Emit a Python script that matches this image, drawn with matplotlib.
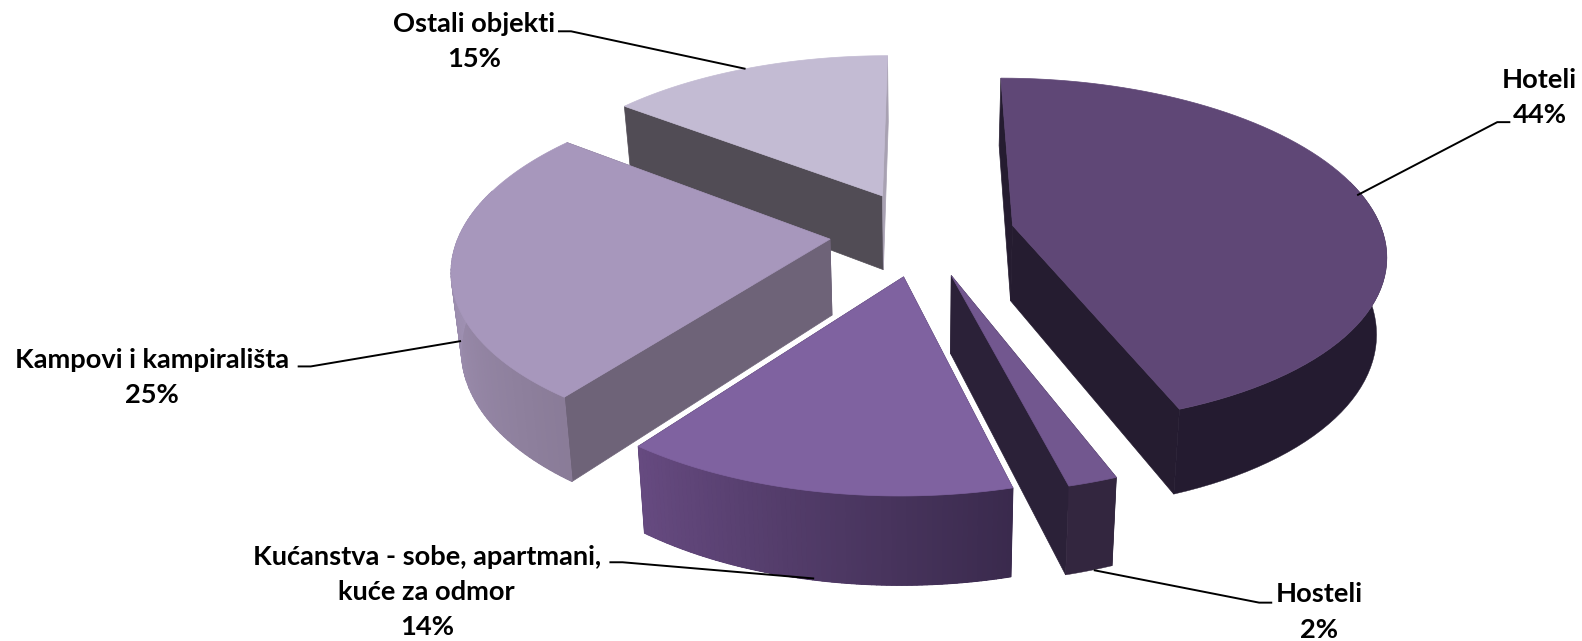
import numpy as np
import matplotlib
matplotlib.use('Agg')
import matplotlib.pyplot as plt
from matplotlib.collections import PolyCollection
from matplotlib.colors import to_rgb

labels = ['Hoteli', 'Hosteli', 'Kućanstva - sobe, apartmani,\nkuće za odmor',
          'Kampovi i kampirališta', 'Ostali objekti']
shares = [44.2, 1.8, 14.2, 25.2, 14.6]
pct_labels = ['44%', '2%', '14%', '25%', '15%']

top_colors = ['#5F4776', '#72578F', '#7F62A0', '#A797BC', '#C3BBD3']
# flat side at the start and at the end of each slice
side_colors = [('#251C30', '#251C30'), ('#2B2138', '#2B2138'), ('#3A2A4D', '#3A2A4D'),
               ('#6E6378', '#6E6378'), ('#514C55', '#A8A1B2')]
# outer face colour at the start and at the end of each slice
outer_colors = [('#241B30', '#241B30'), ('#33263F', '#33263F'), ('#3A2A4D', '#664A80'),
                ('#8A7C98', '#A798BC'), ('#A8A1B2', '#A8A1B2')]

# perspective of the pie
cx, cy = 914, 231
rx, ry = 367, 170
persp = 0.15
explode = 0.25
depth = 75
shrink = 0.978


def project(u, v, low=False):
    w = 1 + persp * v
    x = rx * u / w
    y = cy - ry * v / w
    if low:
        return cx + shrink * x, y + depth / w ** 0.8
    return cx + x, y


def lerp(c1, c2, t):
    c1, c2 = np.array(to_rgb(c1)), np.array(to_rgb(c2))
    return tuple(c1 + (c2 - c1) * t)


def draw_slice(ax, a0, a1, top, side, outer):
    mid = np.radians((a0 + a1) / 2)
    ou, ov = explode * np.sin(mid), explode * np.cos(mid)
    ang = np.radians(np.linspace(a0, a1, 80))
    u = ou + np.sin(ang)
    v = ov + np.cos(ang)
    tx, ty = project(u, v)
    lx, ly = project(u, v, True)
    ap_top = project(ou, ov)
    ap_low = project(ou, ov, True)

    # flat sides
    for i, col in zip([0, -1], side):
        xs = [ap_top[0], tx[i], lx[i], ap_low[0]]
        ys = [ap_top[1], ty[i], ly[i], ap_low[1]]
        ax.fill(xs, ys, color=col, lw=0.5, zorder=2)

    # outer face only where it looks to the viewer
    front = np.where(np.cos(ang) < 0.3)[0]
    if len(front) > 1:
        f0, f1 = front[0], front[-1]
        ax.fill(np.r_[tx[f0:f1 + 1], lx[f0:f1 + 1][::-1]], np.r_[ty[f0:f1 + 1], ly[f0:f1 + 1][::-1]],
                color=lerp(outer[0], outer[1], 0.5), lw=0.3, zorder=2)
        if outer[0] != outer[1]:
            polys, cols = [], []
            for i in range(f0, f1):
                polys.append([(tx[i], ty[i]), (tx[i + 1], ty[i + 1]), (lx[i + 1], ly[i + 1]), (lx[i], ly[i])])
                cols.append(lerp(outer[0], outer[1], (i - f0) / max(f1 - f0 - 1, 1)))
            ax.add_collection(PolyCollection(polys, facecolors=cols, edgecolors=cols, linewidths=0.8, zorder=2))

    ax.fill(np.r_[ap_top[0], tx], np.r_[ap_top[1], ty], color=top, lw=0.5, zorder=2)


fig = plt.figure(figsize=(15.82, 6.41), dpi=100)
ax = fig.add_axes([0, 0, 1, 1])
ax.set_xlim(0, 1568)
ax.set_ylim(635, 0)
ax.axis('off')

edges = np.r_[0, np.cumsum(shares)] * 3.6
for i in [4, 3, 0, 1, 2]:
    draw_slice(ax, edges[i], edges[i + 1], top_colors[i], side_colors[i], outer_colors[i])

# leader lines
leaders = [([1496, 1484, 1346], [121, 121, 193]),
           ([1260, 1248, 1085], [597, 597, 565]),
           ([605, 617, 806], [557, 557, 573]),
           ([296, 308, 456], [363, 363, 338]),
           ([554, 566, 738], [31, 31, 68])]
for xs, ys in leaders:
    ax.plot(xs, ys, color='black', lw=1.4, zorder=3)

font = dict(family='Lato', fontweight='bold', fontsize=19.6, ha='center', va='center', color='black')
ax.text(1526, 79, labels[0], **font)
ax.text(1526, 114, pct_labels[0], **font)
ax.text(1308, 588, labels[1], **font)
ax.text(1307, 624, pct_labels[1], **font)
ax.text(423, 552, labels[2].split('\n')[0], **font)
ax.text(423, 586, labels[2].split('\n')[1], **font)
ax.text(423, 621, pct_labels[2], **font)
ax.text(151, 357, labels[3], **font)
ax.text(151, 391, pct_labels[3], **font)
ax.text(470, 24, labels[4], **font)
ax.text(470, 58, pct_labels[4], **font)

fig.savefig('out.png', dpi=100)
